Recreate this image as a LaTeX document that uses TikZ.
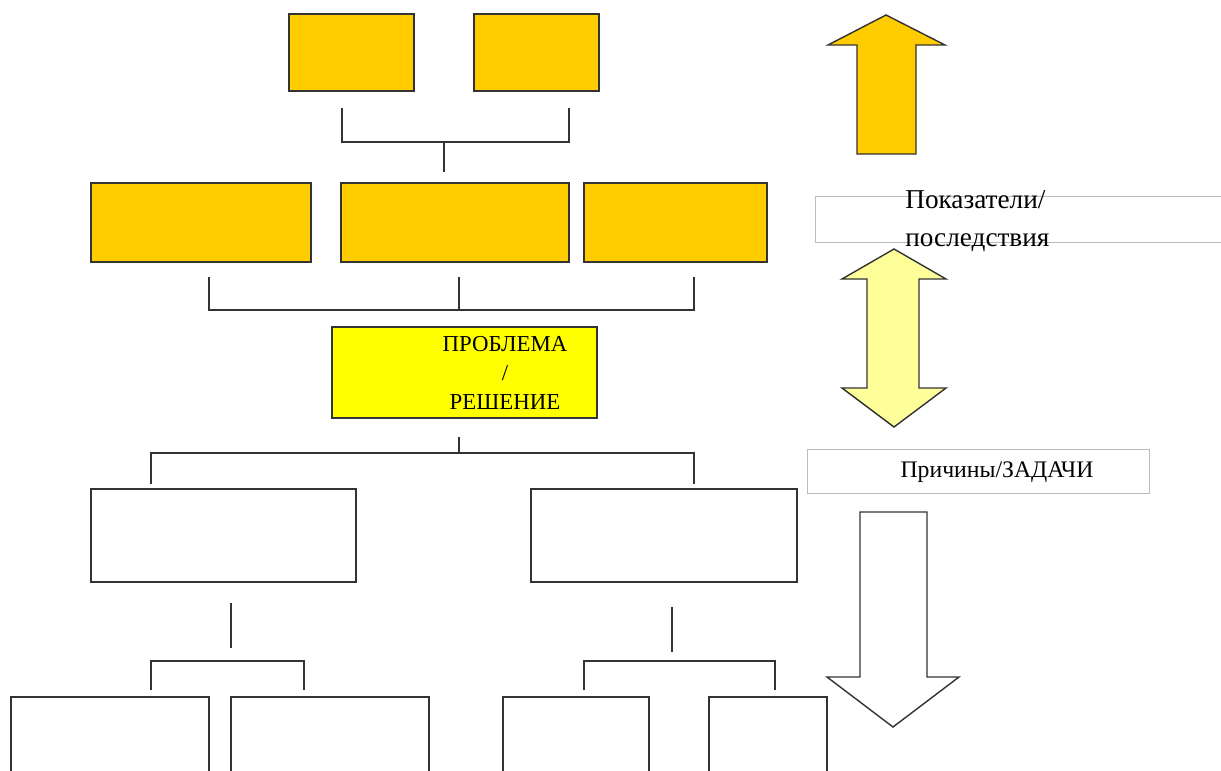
\documentclass[tikz,border=0pt]{standalone}
\usepackage{fontspec}
\setmainfont{Liberation Serif}
\definecolor{ambercol}{HTML}{FFCC00}
\definecolor{yellowcol}{HTML}{FFFF00}
\definecolor{palecol}{HTML}{FFFF99}
\definecolor{inkcol}{HTML}{333333}
\definecolor{framecol}{HTML}{BBBBBB}
\begin{document}
\begin{tikzpicture}[x=0.02cm, y=-0.02cm,
  box/.style={draw=inkcol, line width=0.8pt, inner sep=0pt},
  amberbox/.style={box, fill=ambercol},
  link/.style={draw=inkcol, line width=1pt},
  bigarrow/.style={draw=inkcol, line width=0.8pt, line join=miter}]
\clip (0,0) rectangle (1221,771);
% consequences (top two rows)
\node[amberbox, minimum width=2.5cm, minimum height=1.54cm] (c1) at (351.5,52.5) {};
\node[amberbox, minimum width=2.5cm, minimum height=1.54cm] (c2) at (536.5,52.5) {};
\draw[link] (342,108) |- (569,142) -- (569,108);
\draw[link] (444,142) -- (444,172);
\node[amberbox, minimum width=4.4cm, minimum height=1.58cm] (c3) at (201,222.5) {};
\node[amberbox, minimum width=4.56cm, minimum height=1.58cm] (c4) at (455,222.5) {};
\node[amberbox, minimum width=3.66cm, minimum height=1.58cm] (c5) at (675.5,222.5) {};
\draw[link] (209,277) |- (694,310) -- (694,277);
\draw[link] (459,277) -- (459,310);
% problem
\node[box, fill=yellowcol, minimum width=5.3cm, minimum height=1.82cm] (prob) at (464.5,372.5) {};
\node[align=center, inner sep=0pt, font=\fontsize{13}{16.4}\selectfont] (probtext) at (505,373) {ПРОБЛЕМА\\/\\РЕШЕНИЕ};
% causes
\draw[link] (459,437) -- (459,453);
\draw[link] (151,484) |- (694,453) -- (694,484);
\node[box, minimum width=5.3cm, minimum height=1.86cm] (r1) at (223.5,535.5) {};
\node[box, minimum width=5.32cm, minimum height=1.86cm] (r2) at (664,535.5) {};
\draw[link] (231,603) -- (231,648);
\draw[link] (151,690) |- (304,661) -- (304,690);
\draw[link] (672,607) -- (672,652);
\draw[link] (584,690) |- (775,661) -- (775,690);
\node[box, minimum width=3.96cm, minimum height=2.06cm] (s1) at (110,748.5) {};
\node[box, minimum width=3.96cm, minimum height=2.06cm] (s2) at (330,748.5) {};
\node[box, minimum width=2.92cm, minimum height=2.06cm] (s3) at (576,748.5) {};
\node[box, minimum width=2.36cm, minimum height=2.06cm] (s4) at (768,748.5) {};
% arrows on the right
\draw[bigarrow, fill=ambercol] (886,15) -- (945,45) -- (916,45) -- (916,154)
  -- (857,154) -- (857,45) -- (828,45) -- cycle;
\draw[bigarrow, fill=palecol] (894,249) -- (946,279) -- (919,279) -- (919,388)
  -- (946,388) -- (894,427) -- (842,388) -- (867,388) -- (867,279) -- (842,279) -- cycle;
\draw[bigarrow, fill=white] (860,512) -- (927,512) -- (927,677) -- (959,677)
  -- (893,727) -- (827,677) -- (860,677) -- cycle;
% labels
\node[draw=framecol, line width=0.5pt, minimum width=8.2cm, minimum height=0.92cm] (lblbox1) at (1020,219) {};
\node[anchor=north west, align=left, inner sep=0pt, font=\fontsize{15.5}{21.5}\selectfont] (lbl1) at (905,190) {Показатели/\\последствия};
\node[draw=framecol, line width=0.5pt, minimum width=6.84cm, minimum height=0.88cm] (lblbox2) at (978,471) {};
\node[inner sep=0pt, font=\fontsize{13.5}{15}\selectfont] (lbl2) at (997,472) {Причины/ЗАДАЧИ};
\end{tikzpicture}
\end{document}
